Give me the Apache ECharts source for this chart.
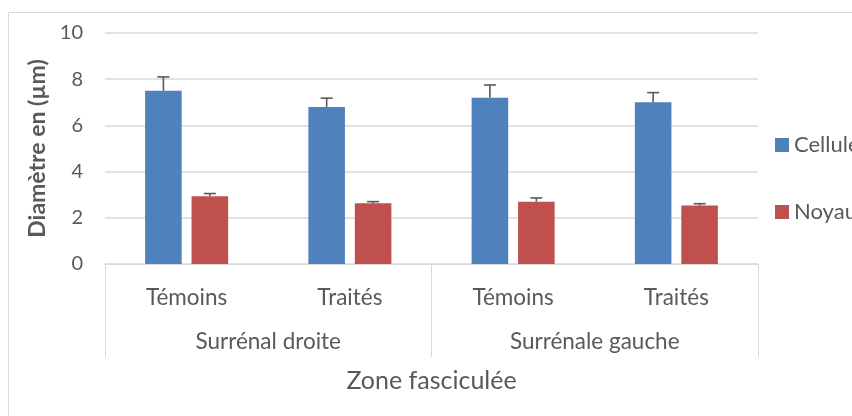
<!DOCTYPE html>
<html>
<head>
<meta charset="utf-8">
<script src="https://cdn.jsdelivr.net/npm/echarts@6/dist/echarts.min.js"></script>
<style>
  html, body { margin: 0; padding: 0; background: #fff; }
  #chart { width: 852px; height: 416px; }
</style>
</head>
<body>
<div id="chart"></div>
<script>
// Diamètre moyen des cellules et des noyaux — zone fasciculée
const groups = ['Surrénal droite', 'Surrénale gauche'];
const categories = ['Témoins', 'Traités', 'Témoins', 'Traités'];
const celluleValues = [7.5, 6.8, 7.2, 7.0];
const celluleErrors = [0.6, 0.38, 0.55, 0.42];
const noyauValues = [2.93, 2.63, 2.7, 2.53];
const noyauErrors = [0.12, 0.07, 0.16, 0.08];
const yTicks = { min: 0, max: 10, interval: 2 };

const FONT = 'Lato, "Open Sans", sans-serif';
const TEXT = '#595959';
const GRID = '#d9d9d9';
const BAR_W = 0.224;   // bar width as a fraction of the category band
const BAR_GAP = 0.27;  // gap between the two bars, fraction of a bar

// upward error bar drawn at a bar's centre; side = -1 for the left bar, +1 for the right
function errorBarRenderer(side) {
  return function (params, api) {
    const idx = api.value(0);
    const val = api.value(1);
    const err = api.value(2);
    const band = api.size([1, 0])[0];
    const w = band * BAR_W;
    const off = side * (w + w * BAR_GAP) / 2;
    const base = api.coord([idx, val]);
    const top = api.coord([idx, val + err]);
    const x = base[0] + off;
    const cap = 6;
    const style = { stroke: '#595959', lineWidth: 1.6 };
    return {
      type: 'group',
      children: [
        { type: 'line', shape: { x1: x, y1: base[1], x2: x, y2: top[1] }, style: style },
        { type: 'line', shape: { x1: x - cap, y1: top[1], x2: x + cap, y2: top[1] }, style: style }
      ]
    };
  };
}

const chart = echarts.init(document.getElementById('chart'), null, { renderer: 'canvas' });

chart.setOption({
  animation: false,
  textStyle: { fontFamily: FONT },
  graphic: [{
    type: 'rect',
    shape: { x: 8.5, y: 12.5, width: 900, height: 500 },
    style: { fill: 'none', stroke: GRID, lineWidth: 1 },
    silent: true
  }],
  grid: { left: 105, right: 94, top: 33, bottom: 152, containLabel: false },
  legend: {
    orient: 'vertical',
    left: 770,
    top: 129,
    itemWidth: 14,
    itemHeight: 14,
    itemGap: 45,
    icon: 'rect',
    textStyle: { color: TEXT, fontSize: 22, lineHeight: 22, fontFamily: FONT },
    data: ['Cellule', 'Noyau']
  },
  xAxis: [
    {
      type: 'category',
      data: categories,
      position: 'bottom',
      axisLine: { lineStyle: { color: GRID, width: 1 } },
      axisTick: { show: false },
      axisLabel: { color: TEXT, fontSize: 22.5, fontFamily: FONT, margin: 22 }
    },
    {
      type: 'category',
      data: groups,
      position: 'bottom',
      axisLine: { lineStyle: { color: GRID, width: 1 } },
      axisTick: { show: true, length: 93, lineStyle: { color: GRID, width: 1 } },
      axisLabel: { color: TEXT, fontSize: 22.5, fontFamily: FONT, margin: 66 },
      name: 'Zone fasciculée',
      nameLocation: 'middle',
      nameGap: 104,
      nameTextStyle: { color: TEXT, fontSize: 25, fontFamily: FONT }
    }
  ],
  yAxis: {
    type: 'value',
    min: yTicks.min,
    max: yTicks.max,
    interval: yTicks.interval,
    axisLine: { show: false },
    axisTick: { show: false },
    splitLine: { lineStyle: { color: GRID, width: 1.5 } },
    axisLabel: { color: TEXT, fontSize: 20, fontFamily: FONT, margin: 22 },
    name: 'Diamètre en (µm)',
    nameLocation: 'middle',
    nameGap: 55,
    nameTextStyle: { color: TEXT, fontSize: 23, fontWeight: 'bold', fontFamily: FONT }
  },
  series: [
    {
      name: 'Cellule',
      type: 'bar',
      data: celluleValues,
      barWidth: (BAR_W * 100) + '%',
      barGap: (BAR_GAP * 100) + '%',
      itemStyle: { color: '#4f81bd' }
    },
    {
      name: 'Noyau',
      type: 'bar',
      data: noyauValues,
      barWidth: (BAR_W * 100) + '%',
      barGap: (BAR_GAP * 100) + '%',
      itemStyle: { color: '#c0504d' }
    },
    {
      type: 'custom',
      renderItem: errorBarRenderer(-1),
      data: celluleValues.map((v, i) => [i, v, celluleErrors[i]]),
      encode: { x: 0, y: 1 },
      z: 5,
      silent: true
    },
    {
      type: 'custom',
      renderItem: errorBarRenderer(1),
      data: noyauValues.map((v, i) => [i, v, noyauErrors[i]]),
      encode: { x: 0, y: 1 },
      z: 5,
      silent: true
    }
  ]
});
</script>
</body>
</html>
